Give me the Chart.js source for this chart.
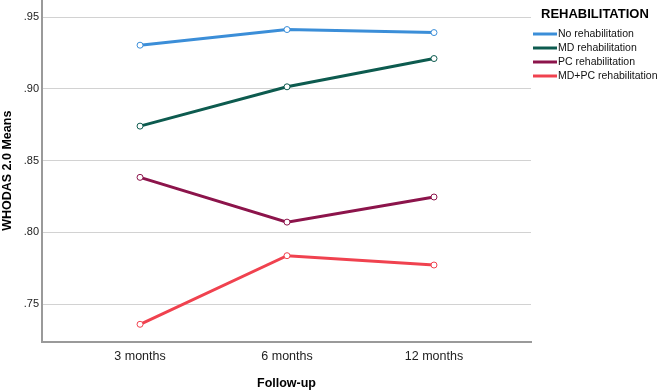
<!DOCTYPE html>
<html>
<head>
<meta charset="utf-8">
<script src="https://cdn.jsdelivr.net/npm/chart.js@4.4.1/dist/chart.umd.min.js"></script>
<style>
  html, body { margin: 0; padding: 0; background: #fff; }
  #wrap { width: 662px; height: 391px; position: relative; }
</style>
</head>
<body>
<div id="wrap"><canvas id="chart"></canvas></div>
<script>
// follow-up points on the x axis
var categories = ['3 months', '6 months', '12 months'];

// WHODAS 2.0 means per rehabilitation group
var noRehab   = [0.9305, 0.9414, 0.9393];
var mdRehab   = [0.8741, 0.9015, 0.9212];
var pcRehab   = [0.8384, 0.8072, 0.8247];
var mdpcRehab = [0.7360, 0.7838, 0.7773];

var yTicks = [0.75, 0.80, 0.85, 0.90, 0.95];

var seriesNames  = ['No rehabilitation', 'MD rehabilitation', 'PC rehabilitation', 'MD+PC rehabilitation'];
var seriesValues = [noRehab, mdRehab, pcRehab, mdpcRehab];
var seriesColors = ['#3b8ed8', '#0d5b4f', '#8c144b', '#f0424f'];

var FONT = '"Liberation Sans", Arial, sans-serif';

// x as numbers so the categories can sit closer together than Chart.js' offset would put them
function toPoints(arr) {
  return arr.map(function (v, i) { return { x: i, y: v }; });
}

var datasets = seriesNames.map(function (name, i) {
  return {
    label: name,
    data: toPoints(seriesValues[i]),
    borderColor: seriesColors[i],
    backgroundColor: '#ffffff',
    borderWidth: 3,
    pointRadius: 3,
    pointBorderWidth: 1,
    pointBackgroundColor: '#ffffff',
    pointBorderColor: seriesColors[i],
    tension: 0
  };
});

// legend drawn by hand so it sits where SPSS puts it
var sideLegend = {
  id: 'sideLegend',
  afterDraw: function (chart) {
    var ctx = chart.ctx;
    ctx.save();
    ctx.fillStyle = '#000';
    ctx.font = 'bold 13px ' + FONT;
    ctx.textBaseline = 'middle';
    ctx.textAlign = 'left';
    ctx.fillText('REHABILITATION', 541, 14);
    ctx.font = '10.5px ' + FONT;
    chart.data.datasets.forEach(function (ds, i) {
      var y = 34 + i * 14;
      ctx.strokeStyle = ds.borderColor;
      ctx.lineWidth = 3;
      ctx.beginPath();
      ctx.moveTo(533, y);
      ctx.lineTo(557, y);
      ctx.stroke();
      ctx.fillStyle = '#111';
      ctx.fillText(ds.label, 558, y);
    });
    ctx.restore();
  }
};

new Chart(document.getElementById('chart'), {
  type: 'line',
  data: { datasets: datasets },
  plugins: [sideLegend],
  options: {
    responsive: true,
    maintainAspectRatio: false,
    animation: false,
    layout: { autoPadding: false, padding: { top: 0, right: 131, bottom: 0, left: 0 } },
    plugins: {
      legend: { display: false },
      tooltip: { enabled: false }
    },
    scales: {
      x: {
        type: 'linear',
        min: -0.667,
        max: 2.66,
        afterBuildTicks: function (scale) {
          scale.ticks = categories.map(function (c, i) { return { value: i }; });
        },
        afterFit: function (scale) {
          scale.height = 49.5;
          scale.paddingLeft = 0;
          scale.paddingRight = 0;
        },
        grid: { display: false, drawTicks: false },
        border: { display: true, color: '#9a9a9a', width: 2 },
        ticks: {
          padding: 8,
          color: '#222',
          font: { family: FONT, size: 12.5 },
          maxRotation: 0,
          callback: function (v) { return categories[v]; }
        },
        title: {
          display: true,
          text: 'Follow-up',
          color: '#000',
          font: { family: FONT, size: 12.5, weight: 'bold' },
          padding: { top: 0, bottom: 0 }
        }
      },
      y: {
        min: 0.724,
        max: 0.962,
        afterBuildTicks: function (scale) {
          scale.ticks = yTicks.map(function (v) { return { value: v }; });
        },
        afterFit: function (scale) {
          scale.width = 42;
          scale.paddingTop = 0;
          scale.paddingBottom = 0;
        },
        grid: { color: '#d2d2d2', lineWidth: 1, drawTicks: false },
        border: { display: true, color: '#9a9a9a', width: 2 },
        ticks: {
          padding: 3,
          color: '#222',
          font: { family: FONT, size: 11 },
          callback: function (v) { return v.toFixed(2).replace(/^0/, ''); }
        },
        title: {
          display: true,
          text: 'WHODAS 2.0 Means',
          color: '#000',
          font: { family: FONT, size: 12.5, weight: 'bold' },
          padding: 0
        }
      }
    }
  }
});
</script>
</body>
</html>
